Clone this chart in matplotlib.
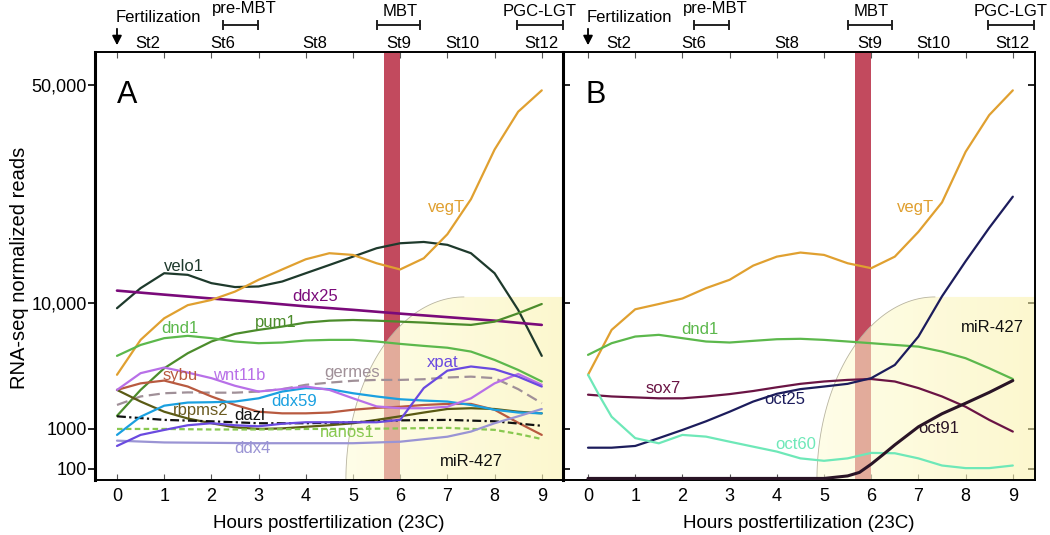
import numpy as np
import matplotlib
matplotlib.use("Agg")
import matplotlib.pyplot as plt
from matplotlib import transforms
from matplotlib.path import Path
from matplotlib.patches import PathPatch

plt.rcParams['font.family'] = ['Liberation Sans', 'DejaVu Sans']

# ---------------- data (RNA-seq normalized reads) ----------------
H = [0, 0.5, 1, 1.5, 2, 2.5, 3, 3.5, 4, 4.5, 5, 5.5, 6, 6.5, 7, 7.5, 8, 8.5, 9]
H1 = [0, 1, 2, 3, 4, 5, 6, 7, 8, 9]

vegT_A = [2690, 5090, 7550, 9600, 10220, 10870, 11860, 12800, 13800, 14430,
          14250, 13400, 12800, 13900, 16600, 21500, 31000, 41000, 48000]
velo1_A = [9080, 11150, 12450, 12300, 11570, 11240, 11290, 11710, 12450, 13230,
           14070, 14970, 15530, 15680, 15350, 14430, 12450, 8800, 3800]
ddx25_A = [10950, 10630, 10330, 10050, 9390, 8810, 8220, 7710, 7230, 6690]
pum1_A = [1270, 2040, 3030, 3990, 4940, 5680, 6110, 6490, 6980, 7230,
          7320, 7230, 7100, 6980, 6820, 6690, 7100, 8270, 9800]
dnd1_A = [3800, 4640, 5250, 5480, 5250, 4940, 4790, 4850, 5030, 5090,
          5090, 4940, 4730, 4560, 4410, 4110, 3530, 2940, 2380]
sybu_A = [2040, 2300, 2420, 2170, 1810, 1550, 1370, 1330, 1330, 1350,
          1420, 1470, 1500, 1550, 1580, 1580, 1420, 1120, 710]
wnt11b_A = [2040, 2770, 3070, 2800, 2530, 2200, 1980, 2070, 2170, 2040,
            1750, 1510, 1460, 1460, 1500, 1750, 2300, 2730, 2240]
germes_A = [1550, 1810, 1920, 1950, 1940, 1940, 1980, 2070, 2240, 2330,
            2410, 2450, 2450, 2480, 2560, 2600, 2530, 2070, 1600]
xpat_A = [376, 710, 944, 1070, 1110, 1070, 1050, 1100, 1130, 1130,
          1130, 1130, 1180, 2110, 2900, 3130, 2980, 2600, 2170]
rbpms2_A = [2040, 1650, 1370, 1210, 1110, 1030, 1000, 1010, 1040, 1070,
            1110, 1180, 1260, 1350, 1440, 1460, 1440, 1370, 1330]
ddx59_A = [710, 1250, 1530, 1620, 1630, 1650, 1750, 1980, 2110, 2070,
           1920, 1810, 1720, 1680, 1650, 1550, 1420, 1350, 1330]
dazl_A = [1260, 1180, 1150, 1110, 1110, 1130, 1170, 1180, 1150, 1060]
nanos1_H = [0, 1, 2, 3, 4, 5, 6, 7, 8, 8.5, 9]
nanos1_A = [1000, 1000, 970, 970, 1000, 1000, 1010, 1020, 950, 750, 560]
ddx4_H = [0, 1, 2, 3, 4, 5, 6, 7, 7.5, 8, 8.5, 9]
ddx4_A = [510, 460, 450, 440, 440, 440, 480, 640, 860, 1110, 1260, 1440]

vegT_B = [2690, 6110, 8900, 9800, 10330, 11150, 11860, 13170, 14070, 14500,
          14250, 13400, 12920, 14070, 16900, 21000, 30500, 40000, 48000]
dnd1_B = [3870, 4790, 5410, 5580, 5250, 4940, 4850, 5000, 5150, 5190,
          5090, 4940, 4790, 4640, 4500, 4110, 3640, 3030, 2490]
sox7_B = [1870, 1810, 1780, 1750, 1750, 1810, 1890, 2000, 2140, 2280,
          2380, 2450, 2490, 2380, 2110, 1810, 1500, 1180, 860]
oct25_B = [340, 340, 376, 590, 944, 1150, 1370, 1650, 1900, 2070,
           2170, 2280, 2530, 3220, 5410, 10500, 13600, 17400, 21900]
oct60_H = [0, 0.25, 0.5, 1, 1.5, 2, 2.5, 3, 3.5, 4, 4.5, 5, 5.5, 6, 6.5, 7, 7.5, 8, 8.5, 9]
oct60_B = [2690, 1810, 1250, 590, 438, 710, 643, 480, 361, 272, 184, 160, 184,
           252, 247, 184, 122, 105, 105, 122]
oct91_H = [0, 1, 2, 3, 4, 5, 5.5, 5.75, 6, 6.25, 6.5, 7, 7.5, 8, 8.5, 9]
oct91_B = [58, 58, 58, 58, 58, 58, 67, 82, 132, 228, 400, 1040, 1320, 1600, 1950, 2420]

stage_labels = ['St2', 'St6', 'St8', 'St9', 'St10', 'St12']
stage_hours = [0.65, 2.25, 4.2, 5.97, 7.32, 9.0]
phase_labels = ['pre-MBT', 'MBT', 'PGC-LGT']
phase_start = [2.25, 5.5, 8.47]
phase_end = [2.98, 6.43, 9.44]
phase_text_h = [2.7, 6.0, 8.95]

mbt_bar = (5.65, 6.0)
mir_start, mir_top_h, mir_top_v = 4.85, 7.35, 10450

y_ticks = [100, 1000, 10000, 50000]
y_ticklabels = ['100', '1000', '10,000', '50,000']
x_ticks = [0, 1, 2, 3, 4, 5, 6, 7, 8, 9]

# ---------------- custom (piecewise) value axis ----------------
LOG_KNOTS = np.array([-3.0, 2.0, 3.0, 4.0, np.log10(50000), 8.0])
POS_KNOTS = np.array([-200.0, 0.0, 40.0, 166.0, 384.0, 384.0 + 312.0 * (8.0 - np.log10(50000))])


def fwd(v):
    v = np.asarray(v, dtype=float)
    return np.interp(np.log10(np.clip(v, 1e-3, 1e8)), LOG_KNOTS, POS_KNOTS)


def inv(u):
    u = np.asarray(u, dtype=float)
    return 10 ** np.interp(u, POS_KNOTS, LOG_KNOTS)


YLIM = (53, 63700)

fig = plt.figure(figsize=(10.5, 5.35), dpi=100)
axA = fig.add_axes([95 / 1050, 55 / 535, 468 / 1050, 428 / 535])
axB = fig.add_axes([563 / 1050, 55 / 535, 472 / 1050, 428 / 535])
XLIM_A = (-0.466, 9.45)
XLIM_B = (-0.53, 9.47)

LW = 1.6
series_A = [
    (H, velo1_A, '#1e3a2c', '-', LW),
    (H1, ddx25_A, '#7a0a7a', '-', 1.9),
    (H, vegT_A, '#e0a030', '-', LW),
    (H, pum1_A, '#4c8c2c', '-', LW),
    (H, dnd1_A, '#5cb84c', '-', LW),
    (H, germes_A, '#a09098', (0, (5, 2.5)), LW),
    (H, sybu_A, '#b85a40', '-', LW),
    (H, rbpms2_A, '#5a5a14', '-', LW),
    (H1, dazl_A, '#111111', (0, (4, 1.5, 1, 1.5)), LW),
    (nanos1_H, nanos1_A, '#88c850', (0, (2.5, 1.5)), LW),
    (H, ddx59_A, '#1aa0e0', '-', LW),
    (ddx4_H, ddx4_A, '#9a94d4', '-', LW),
    (H, wnt11b_A, '#b870e8', '-', LW),
    (H, xpat_A, '#6a4ae0', '-', LW),
]
series_B = [
    (H, vegT_B, '#e0a030', '-', LW),
    (H, dnd1_B, '#5cb84c', '-', LW),
    (H, sox7_B, '#6a1444', '-', LW),
    (H, oct25_B, '#1c1c5c', '-', LW),
    (oct60_H, oct60_B, '#6ee8b8', '-', LW),
    (oct91_H, oct91_B, '#2a1426', '-', 2.2),
]
labels_A = [
    ('velo1', 1.42, 13040, '#1e3a2c'), ('ddx25', 4.19, 10450, '#7a0a7a'),
    ('vegT', 6.99, 20150, '#e0a030'), ('dnd1', 1.33, 6220, '#5cb84c'),
    ('pum1', 3.37, 6930, '#4c8c2c'), ('sybu', 1.33, 2640, '#b85a40'),
    ('wnt11b', 2.6, 2640, '#b870e8'), ('germes', 4.98, 2830, '#a09098'),
    ('xpat', 6.91, 3340, '#6a4ae0'), ('ddx59', 3.75, 1640, '#1aa0e0'),
    ('rbpms2', 1.78, 1390, '#6a5a20'), ('dazl', 2.8, 1270, '#111111'),
    ('nanos1', 4.89, 794, '#88c850'), ('ddx4', 2.86, 316, '#9a94d4'),
    ('miR-427', 7.52, 158, '#111111'),
]
labels_B = [
    ('vegT', 6.93, 20150, '#e0a030'), ('dnd1', 2.37, 6110, '#5cb84c'),
    ('sox7', 1.6, 2080, '#6a1444'), ('oct25', 4.17, 1700, '#1c1c5c'),
    ('oct60', 4.39, 398, '#6ee8b8'), ('oct91', 7.44, 1000, '#2a1426'),
    ('miR-427', 8.56, 6340, '#111111'),
]


def mir_region(ax, xlim):
    def xf(h):
        return (h - xlim[0]) / (xlim[1] - xlim[0])

    def yf(v):
        return (fwd(v) - fwd(YLIM[0])) / (fwd(YLIM[1]) - fwd(YLIM[0]))

    x0, x1, yt = xf(mir_start), xf(mir_top_h), float(yf(mir_top_v))
    t = np.linspace(0, np.pi / 2, 80)
    ax_ = x1 - x0
    ex = x1 - ax_ * np.cos(t)
    ey = yt * np.sin(t)
    verts = [(x0, 0)] + list(zip(ex, ey)) + [(1, yt), (1, 0), (x0, 0)]
    codes = [Path.MOVETO] + [Path.LINETO] * (len(verts) - 2) + [Path.CLOSEPOLY]
    patch = PathPatch(Path(verts, codes), facecolor='none', edgecolor='none',
                      transform=ax.transAxes)
    ax.add_patch(patch)
    g = np.linspace(0, 1, 256)
    c0 = np.array([1.0, 0.99, 0.84])
    c1 = np.array([0.98, 0.95, 0.66])
    rgb = c0[None, :] * (1 - g[:, None]) + c1[None, :] * g[:, None]
    rgba = np.concatenate([rgb, np.full((256, 1), 0.56)], axis=1)[None, :, :]
    rgba = np.repeat(rgba, 2, axis=0)
    im = ax.imshow(rgba, extent=(x0, 1, 0, yt), transform=ax.transAxes,
                   aspect='auto', interpolation='bilinear', zorder=2)
    im.set_clip_path(patch)
    ax.plot(ex, ey, color='#b8b4a0', lw=0.6, transform=ax.transAxes, zorder=2.1)


def setup(ax, xlim, series, labels, letter, left_labels):
    ax.set_yscale('function', functions=(fwd, inv))
    ax.axvspan(*mbt_bar, color='#c24a5e', lw=0, zorder=1)
    mir_region(ax, xlim)
    for xs, ys, c, ls, lw in series:
        ax.plot(xs, ys, color=c, ls=ls, lw=lw, zorder=3, solid_capstyle='round')
    for txt, h, v, c in labels:
        ax.text(h, v, txt, color=c, fontsize=12, ha='center', va='center', zorder=4)
    ax.set_xlim(*xlim)
    ax.set_ylim(*YLIM)
    ax.set_xticks(x_ticks)
    ax.set_xticklabels([str(t) for t in x_ticks])
    ax.set_yticks(y_ticks)
    ax.yaxis.set_minor_locator(matplotlib.ticker.NullLocator())
    ax.xaxis.set_minor_locator(matplotlib.ticker.NullLocator())
    ax.tick_params(axis='x', direction='in', top=True, bottom=True, length=4,
                   width=0.8, labelsize=13, pad=6, color='#555555')
    if left_labels:
        ax.set_yticklabels(y_ticklabels)
        ax.tick_params(axis='y', direction='out', left=True, right=False,
                       length=5, width=1.2, labelsize=13, pad=1)
    else:
        ax.set_yticklabels([])
        ax.tick_params(axis='y', direction='in', left=True, right=True,
                       length=5, width=1.2)
    for s in ax.spines.values():
        s.set_linewidth(1.4)
    ax.spines['left'].set_linewidth(2.2)
    ax.text(0.047, 0.9, letter, transform=ax.transAxes, fontsize=22,
            ha='left', va='center')

    tr = transforms.blended_transform_factory(ax.transData, fig.transFigure)
    for lab, h in zip(stage_labels, stage_hours):
        ax.text(h, 1 - 43 / 535, lab, transform=tr, fontsize=12,
                ha='center', va='center', clip_on=False)
    ax.text(-0.02, 1 - 18 / 535, 'Fertilization', transform=tr, fontsize=12,
            ha='left', va='center', clip_on=False)
    ax.annotate('', xy=(0, 1 - 48 / 535), xytext=(0, 1 - 26 / 535),
                xycoords=tr, textcoords=tr,
                arrowprops=dict(arrowstyle='-|>,head_width=0.28,head_length=0.55',
                                color='black', lw=1.3))
    yb = 1 - 25 / 535
    cap = 4 / 535
    for lab, a, b, ht in zip(phase_labels, phase_start, phase_end, phase_text_h):
        ax.plot([a, b], [yb, yb], color='#222222', lw=1.4, transform=tr, clip_on=False)
        for xx in (a, b):
            ax.plot([xx, xx], [yb - cap, yb + cap], color='#222222', lw=1.4,
                    transform=tr, clip_on=False)
        ty = 1 - 9 / 535 if lab == 'pre-MBT' else 1 - 12 / 535
        ax.text(ht, ty, lab, transform=tr, fontsize=12, ha='center',
                va='center', clip_on=False)
    trx = transforms.blended_transform_factory(ax.transAxes, fig.transFigure)
    ax.text(0.5, 1 - 523 / 535, 'Hours postfertilization (23C)', transform=trx,
            fontsize=13.5, ha='center', va='center')


setup(axA, XLIM_A, series_A, labels_A, 'A', True)
setup(axB, XLIM_B, series_B, labels_B, 'B', False)

fig.text(20 / 1050, 0.5, 'RNA-seq normalized reads', rotation=90, fontsize=14.5,
         ha='center', va='center')

fig.savefig('out.png', dpi=100)
